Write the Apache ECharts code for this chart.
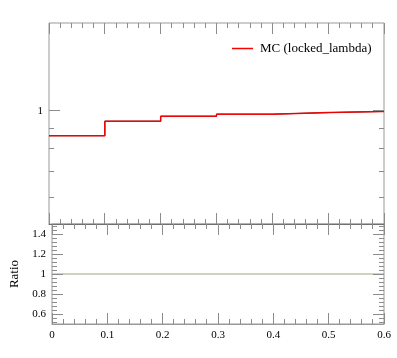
<!DOCTYPE html>
<html>
<head>
<meta charset="utf-8">
<script src="https://cdn.jsdelivr.net/npm/echarts@6/dist/echarts.min.js"></script>
<style>html,body{margin:0;padding:0;background:#fff}#c{width:397px;height:358px}</style>
</head>
<body>
<div id="c"></div>
<script>
// ---- data ----
const xEdges = [0, 0.1, 0.2, 0.3, 0.4, 0.5, 0.6];
const mcValues = [0.864, 0.941, 0.969, 0.981, 0.990, 0.996];
const dataValues = [0.864, 0.941, 0.969, 0.981, 0.990, 0.997];
const ratioValues = [1, 1, 1, 1, 1, 1];
const xTickLabels = ['0', '0.1', '0.2', '0.3', '0.4', '0.5', '0.6'];
const xMajorTicks = [0, 0.1, 0.2, 0.3, 0.4, 0.5, 0.6];
const mainMajorTicks = [1];
const mainMajorLabels = ['1'];
const mainMinorTicks = [0.6, 0.7, 0.8, 0.9];
const ratioMajorTicks = [0.6, 0.8, 1.0, 1.2, 1.4];
const ratioMajorLabels = ['0.6', '0.8', '1', '1.2', '1.4'];
const ratioMinorTicks = [0.52, 0.56, 0.64, 0.68, 0.72, 0.76, 0.84, 0.88, 0.92, 0.96,
                         1.04, 1.08, 1.12, 1.16, 1.24, 1.28, 1.32, 1.36, 1.44, 1.48];
const legendName = 'MC (locked_lambda)';

const FONT = 'Liberation Serif';
const FRAME = '#999999';
const TICK = '#8c8c8c';
const xMin = xEdges[0], xMax = xEdges[xEdges.length - 1];

const xMinorTicks = [];
for (let i = 0; i < xMajorTicks.length - 1; i++) {
  for (let k = 1; k < 5; k++) xMinorTicks.push(xMajorTicks[i] + (xMajorTicks[i + 1] - xMajorTicks[i]) * k / 5);
}

function crisp(v) { return Math.round(v - 0.5) + 0.5; }

function stepData(vals) {
  return xEdges.map((x, i) => [x, vals[Math.min(i, vals.length - 1)]]);
}

function yTickSeries(xIdx, yIdx, majors, labels, minors) {
  const data = [];
  majors.forEach((v, i) => data.push([xMin, v, 1, i]));
  minors.forEach(v => data.push([xMin, v, 0, -1]));
  return {
    type: 'custom', xAxisIndex: xIdx, yAxisIndex: yIdx, silent: true, clip: false, z: 5,
    data: data,
    renderItem: function (params, api) {
      const v = api.value(1), major = api.value(2), li = api.value(3);
      const cs = params.coordSys;
      const yRaw = api.coord([xMin, v])[1];
      const y = crisp(yRaw);
      const x0 = cs.x, x1 = cs.x + cs.width;
      const len = major ? 11 : 5;
      const children = [
        { type: 'line', shape: { x1: x0, y1: y, x2: x0 + len, y2: y }, style: { stroke: TICK, lineWidth: 1 } },
        { type: 'line', shape: { x1: x1 - len, y1: y, x2: x1, y2: y }, style: { stroke: TICK, lineWidth: 1 } }
      ];
      if (major && li >= 0) {
        children.push({ type: 'text', style: { text: labels[li], x: x0 - 6, y: yRaw, align: 'right', verticalAlign: 'middle', fontFamily: FONT, fontSize: 11, fill: '#000' } });
      }
      return { type: 'group', children: children };
    }
  };
}

function xTickSeries(xIdx, yIdx, yRef) {
  const data = [];
  xMajorTicks.forEach(v => data.push([v, yRef, 1]));
  xMinorTicks.forEach(v => data.push([v, yRef, 0]));
  return {
    type: 'custom', xAxisIndex: xIdx, yAxisIndex: yIdx, silent: true, clip: false, z: 5,
    data: data,
    renderItem: function (params, api) {
      const cs = params.coordSys;
      const x = crisp(api.coord([api.value(0), yRef])[0]);
      const len = api.value(2) ? 11 : 5;
      const y0 = cs.y, y1 = cs.y + cs.height;
      return { type: 'group', children: [
        { type: 'line', shape: { x1: x, y1: y0, x2: x, y2: y0 + len }, style: { stroke: TICK, lineWidth: 1 } },
        { type: 'line', shape: { x1: x, y1: y1 - len, x2: x, y2: y1 }, style: { stroke: TICK, lineWidth: 1 } }
      ] };
    }
  };
}

function xAxisDef(grid, lineColor, labels) {
  return {
    type: 'value', gridIndex: grid, position: 'bottom', min: xMin, max: xMax, interval: 0.1,
    axisLine: { show: true, onZero: false, lineStyle: { color: lineColor, width: 1 } },
    axisTick: { show: false },
    splitLine: { show: false },
    axisLabel: labels ? { show: true, margin: 6, fontFamily: FONT, fontSize: 11, color: '#000',
      formatter: v => xTickLabels[Math.round(v * 10)] } : { show: false }
  };
}

const chart = echarts.init(document.getElementById('c'), null, { renderer: 'canvas' });
chart.setOption({
  animation: false,
  grid: [
    { left: 49, right: 13, top: 23, height: 201, show: true, borderColor: FRAME, borderWidth: 1 },
    { left: 49, right: 13, top: 224, height: 100, show: true, borderColor: FRAME, borderWidth: 1 }
  ],
  legend: {
    data: [{ name: legendName, icon: 'rect' }],
    left: 227, top: 37, itemWidth: 21, itemHeight: 1.5,
    textStyle: { fontFamily: FONT, fontSize: 13, color: '#000', padding: [0, 0, 0, 2] }
  },
  xAxis: [
    xAxisDef(0, '#707070', false),
    xAxisDef(1, FRAME, true)
  ],
  yAxis: [
    { type: 'log', logBase: 10, gridIndex: 0, min: 0.513, max: 1.68,
      axisLine: { show: false, onZero: false }, axisTick: { show: false }, axisLabel: { show: false }, splitLine: { show: false } },
    { type: 'value', gridIndex: 1, min: 0.5, max: 1.5,
      name: 'Ratio', nameLocation: 'middle', nameGap: 31,
      nameTextStyle: { fontFamily: FONT, fontSize: 13, color: '#000' },
      axisLine: { show: false, onZero: false }, axisTick: { show: false }, axisLabel: { show: false }, splitLine: { show: false } }
  ],
  series: [
    { name: 'Data', type: 'line', step: 'end', xAxisIndex: 0, yAxisIndex: 0, showSymbol: false, silent: true,
      data: stepData(dataValues), lineStyle: { color: '#000', width: 1 }, z: 2 },
    { name: legendName, type: 'line', step: 'end', xAxisIndex: 0, yAxisIndex: 0, showSymbol: false, silent: true,
      data: stepData(mcValues), itemStyle: { color: '#ff0000' }, lineStyle: { color: '#ff0000', width: 1.5, opacity: 0.9 }, z: 3 },
    { name: 'Ratio', type: 'line', step: 'end', xAxisIndex: 1, yAxisIndex: 1, showSymbol: false, silent: true,
      data: stepData(ratioValues), lineStyle: { color: '#a8a878', width: 1.2 }, z: 3 },
    yTickSeries(0, 0, mainMajorTicks, mainMajorLabels, mainMinorTicks),
    yTickSeries(1, 1, ratioMajorTicks, ratioMajorLabels, ratioMinorTicks),
    xTickSeries(0, 0, 1),
    xTickSeries(1, 1, 1)
  ]
});
</script>
</body>
</html>
